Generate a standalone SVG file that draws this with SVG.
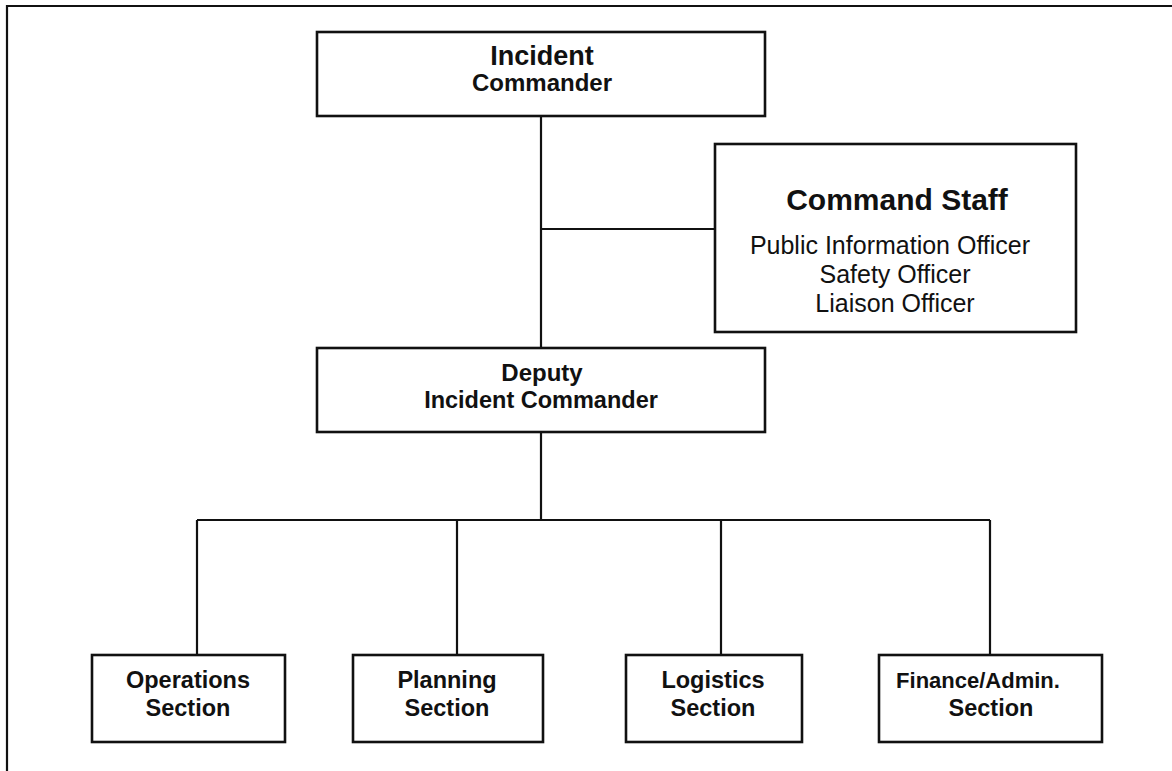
<svg xmlns="http://www.w3.org/2000/svg" width="1172" height="771" viewBox="0 0 1172 771">
<style>
.box{fill:#ffffff;stroke:#111;stroke-width:2.6}
.ln{fill:none;stroke:#111;stroke-width:2.2}
text{font-family:"Liberation Sans",Arial,sans-serif;fill:#111;text-anchor:middle}
.b{font-weight:bold}
</style>
<rect x="0" y="0" width="1172" height="771" fill="#ffffff"/>
<polyline class="ln" points="7,771 7,6 1172,6"/>
<g id="connectors">
<line class="ln" x1="541" y1="116" x2="541" y2="348"/>
<line class="ln" x1="541" y1="229" x2="715" y2="229"/>
<line class="ln" x1="541" y1="432" x2="541" y2="520"/>
<line class="ln" x1="197" y1="520" x2="990" y2="520"/>
<line class="ln" x1="197" y1="520" x2="197" y2="655"/>
<line class="ln" x1="457" y1="520" x2="457" y2="655"/>
<line class="ln" x1="721" y1="520" x2="721" y2="655"/>
<line class="ln" x1="990" y1="520" x2="990" y2="655"/>
</g>
<g id="incident-commander">
<rect class="box" x="317" y="32" width="448" height="84"/>
<text class="b" x="542" y="65" font-size="27">Incident</text>
<text class="b" x="542" y="91" font-size="24">Commander</text>
</g>
<g id="command-staff">
<rect class="box" x="715" y="144" width="361" height="188"/>
<text class="b" x="897" y="210" font-size="30">Command Staff</text>
<text x="890" y="254" font-size="25">Public Information Officer</text>
<text x="895" y="283" font-size="25">Safety Officer</text>
<text x="895" y="312" font-size="25">Liaison Officer</text>
</g>
<g id="deputy-incident-commander">
<rect class="box" x="317" y="348" width="448" height="84"/>
<text class="b" x="542" y="381" font-size="24">Deputy</text>
<text class="b" x="541" y="408" font-size="23.5">Incident Commander</text>
</g>
<g id="operations-section">
<rect class="box" x="92" y="655" width="193" height="87"/>
<text class="b" x="188" y="688" font-size="23.5">Operations</text>
<text class="b" x="188" y="716" font-size="23.5">Section</text>
</g>
<g id="planning-section">
<rect class="box" x="353" y="655" width="190" height="87"/>
<text class="b" x="447" y="688" font-size="23.5">Planning</text>
<text class="b" x="447" y="716" font-size="23.5">Section</text>
</g>
<g id="logistics-section">
<rect class="box" x="626" y="655" width="176" height="87"/>
<text class="b" x="713" y="688" font-size="23.5">Logistics</text>
<text class="b" x="713" y="716" font-size="23.5">Section</text>
</g>
<g id="finance-admin-section">
<rect class="box" x="879" y="655" width="223" height="87"/>
<text class="b" x="978" y="688" font-size="22">Finance/Admin.</text>
<text class="b" x="991" y="716" font-size="23.5">Section</text>
</g>
</svg>
